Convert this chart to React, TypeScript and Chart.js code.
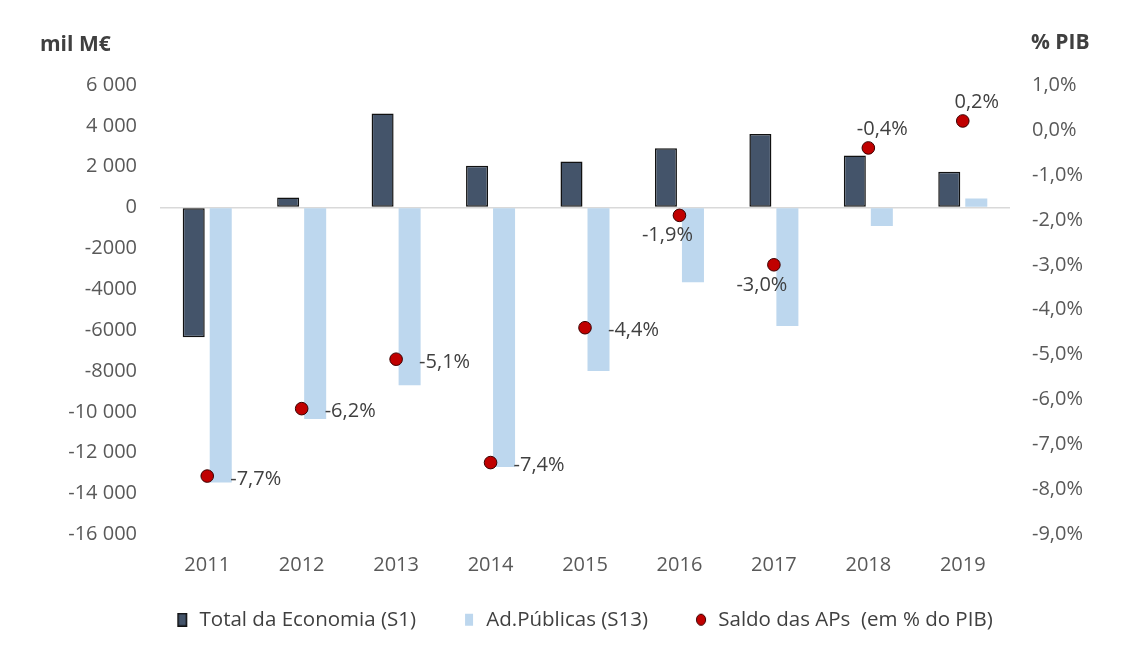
import React, { useEffect, useRef } from 'react';
import { Chart, registerables } from 'chart.js';

Chart.register(...registerables);

// ---- data ----
const years = ['2011', '2012', '2013', '2014', '2015', '2016', '2017', '2018', '2019'];
const totalEconomia = [-6350, 500, 4600, 2050, 2250, 2900, 3600, 2550, 1750];
const adPublicas = [-13450, -10350, -8700, -12700, -8000, -3650, -5800, -900, 450];
const saldoAPs = [-7.7, -6.2, -5.1, -7.4, -4.4, -1.9, -3.0, -0.4, 0.2];
const saldoLabelSide = ['right', 'right', 'right', 'right', 'right', 'below', 'below', 'above', 'above'];
const leftTickLabels = ['6 000', '4 000', '2 000', '0', '-2000', '-4000', '-6000', '-8000', '-10 000', '-12 000', '-14 000', '-16 000'];
const seriesNames = ['Total da Economia (S1)', 'Ad.Públicas (S13)', 'Saldo das APs  (em % do PIB)'];
const leftTitle = 'mil M€';
const rightTitle = '% PIB';

// ---- style ----
const FONT = '"Open Sans", Lato, sans-serif';
const DARK = '#44546A';
const LIGHT = '#BDD7EE';
const RED = '#C00000';
const TICK_COLOR = '#595959';
const TEXT_COLOR = '#404040';
const LEGEND_BOX_W = 50;

const fmtPct = (v: number) => v.toFixed(1).replace('.', ',') + '%';

function makeIcon(kind: 'dark' | 'light' | 'dot'): HTMLCanvasElement {
  // icon sits at the right end of a wide transparent box, so the gap lies before it
  const c = document.createElement('canvas');
  c.width = LEGEND_BOX_W;
  c.height = 14;
  const g = c.getContext('2d')!;
  const x0 = LEGEND_BOX_W - 12;
  if (kind === 'dot') {
    g.beginPath();
    g.ellipse(x0 + 5, 7, 4.6, 5.6, 0, 0, Math.PI * 2);
    g.fillStyle = RED;
    g.fill();
    g.lineWidth = 1;
    g.strokeStyle = '#3a0000';
    g.stroke();
  } else if (kind === 'dark') {
    g.fillStyle = '#111';
    g.fillRect(x0, 0, 10, 14);
    g.fillStyle = DARK;
    g.fillRect(x0 + 1.5, 1.5, 7, 11);
  } else {
    g.fillStyle = LIGHT;
    g.fillRect(x0 + 1, 1, 8, 12);
  }
  return c;
}

const titlesPlugin = {
  id: 'axisTitles',
  afterDraw(chart: any) {
    const ctx = chart.ctx;
    ctx.save();
    ctx.font = `bold 21px ${FONT}`;
    ctx.fillStyle = TEXT_COLOR;
    ctx.textBaseline = 'middle';
    ctx.textAlign = 'left';
    ctx.fillText(leftTitle, 40, 45);
    ctx.fillText(rightTitle, 1031, 43);
    ctx.restore();
  },
};

const pointLabelsPlugin = {
  id: 'pointLabels',
  afterDatasetsDraw(chart: any) {
    const meta = chart.getDatasetMeta(2);
    const ctx = chart.ctx;
    ctx.save();
    ctx.font = `20px ${FONT}`;
    ctx.fillStyle = TEXT_COLOR;
    ctx.textBaseline = 'middle';
    meta.data.forEach((el: any, i: number) => {
      const text = fmtPct(saldoAPs[i]);
      const side = saldoLabelSide[i];
      if (side === 'right') {
        ctx.textAlign = 'left';
        ctx.fillText(text, el.x + 23, el.y + 3);
      } else if (side === 'below') {
        ctx.textAlign = 'center';
        ctx.fillText(text, el.x - 12, el.y + 20);
      } else {
        ctx.textAlign = 'center';
        ctx.fillText(text, el.x + 14, el.y - 19);
      }
    });
    ctx.restore();
  },
};

export default function App() {
  const ref = useRef<HTMLCanvasElement | null>(null);

  useEffect(() => {
    document.body.style.margin = '0';
    const icons = [makeIcon('dark'), makeIcon('light'), makeIcon('dot')];
    const chart = new Chart(ref.current!, {
      type: 'bar',
      data: {
        labels: years,
        datasets: [
          {
            type: 'bar',
            label: seriesNames[0],
            data: totalEconomia,
            backgroundColor: DARK,
            borderColor: '#111111',
            borderWidth: 1.5,
            borderSkipped: false,
            yAxisID: 'y',
            order: 1,
            categoryPercentage: 0.572,
            barPercentage: 0.815,
          },
          {
            type: 'bar',
            label: seriesNames[1],
            data: adPublicas,
            backgroundColor: LIGHT,
            borderWidth: 0,
            yAxisID: 'y',
            order: 1,
            categoryPercentage: 0.572,
            barPercentage: 0.815,
          },
          {
            type: 'line',
            label: seriesNames[2],
            data: saldoAPs,
            showLine: false,
            pointRadius: 6.3,
            pointBackgroundColor: RED,
            pointBorderColor: '#3a0000',
            pointBorderWidth: 1,
            backgroundColor: RED,
            borderColor: '#3a0000',
            yAxisID: 'y1',
            order: 0,
          } as any,
        ],
      },
      options: {
        animation: false,
        responsive: true,
        maintainAspectRatio: false,
        layout: { padding: { top: 85, left: 0, right: 0, bottom: 8 } },
        scales: {
          x: {
            grid: { display: false, drawTicks: false },
            border: { display: false },
            ticks: { color: TICK_COLOR, font: { family: FONT, size: 20 }, padding: 19 },
            afterFit(scale: any) { scale.height = 65; },
          },
          y: {
            position: 'left',
            min: -16000,
            max: 6000,
            grid: {
              drawTicks: false,
              color: (c: any) => (c.tick && c.tick.value === 0 ? '#D9D9D9' : 'rgba(0,0,0,0)'),
              lineWidth: 1.5,
            },
            border: { display: false },
            ticks: {
              stepSize: 2000,
              color: TICK_COLOR,
              font: { family: FONT, size: 20 },
              padding: 23,
              callback: (v: any) => leftTickLabels[Math.round((6000 - Number(v)) / 2000)],
            },
            afterFit(scale: any) { scale.width = 160; },
          },
          y1: {
            position: 'right',
            min: -9,
            max: 1,
            grid: { display: false, drawTicks: false },
            border: { display: false },
            ticks: {
              stepSize: 1,
              color: TICK_COLOR,
              font: { family: FONT, size: 20 },
              padding: 22,
              callback: (v: any) => fmtPct(Number(v)),
            },
            afterFit(scale: any) { scale.width = 122; },
          },
        },
        plugins: {
          tooltip: { enabled: false },
          legend: {
            position: 'bottom',
            labels: {
              usePointStyle: true,
              pointStyleWidth: LEGEND_BOX_W,
              padding: 10,
              color: TEXT_COLOR,
              font: { family: FONT, size: 20.5 },
              generateLabels(chart: any) {
                const base = Chart.defaults.plugins.legend.labels.generateLabels(chart);
                base.sort((a: any, b: any) => a.datasetIndex - b.datasetIndex);
                return base.map((it: any) => ({ ...it, pointStyle: icons[it.datasetIndex], lineWidth: 0 }));
              },
            },
          },
        },
      },
      plugins: [titlesPlugin, pointLabelsPlugin],
    } as any);
    return () => chart.destroy();
  }, []);

  return (
    <div style={{ position: 'relative', width: 1132, height: 648 }}>
      <canvas ref={ref} />
    </div>
  );
}
